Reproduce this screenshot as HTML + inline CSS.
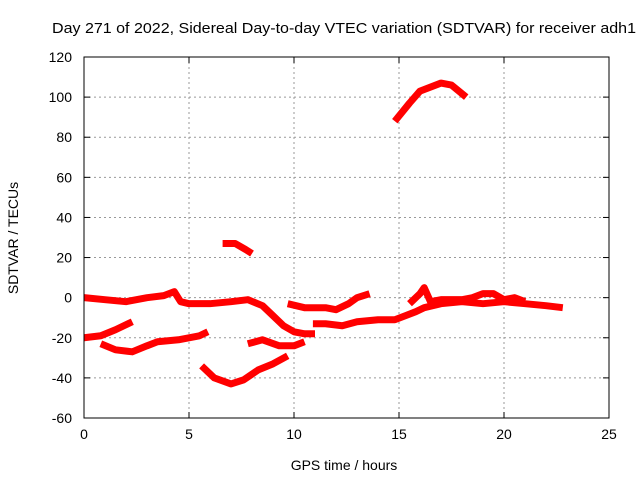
<!DOCTYPE html>
<html><head><meta charset="utf-8"><style>
body{margin:0;background:#fff;}
svg{display:block;font-family:"Liberation Sans",sans-serif;font-size:14px;}
</style></head><body>
<svg id="chart" width="640" height="480">
<text x="344" y="33" text-anchor="middle" textLength="584" lengthAdjust="spacingAndGlyphs" style="font-size:15px">Day 271 of 2022, Sidereal Day-to-day VTEC variation (SDTVAR) for receiver adh1</text>
<g id="grid"></g>
<g id="ticks"></g>
<g id="series"></g>
<rect x="84" y="57" width="525" height="361" fill="none" stroke="#000" stroke-width="1"/>
<text x="344" y="470" text-anchor="middle">GPS time / hours</text>
<text x="0" y="0" transform="translate(18,238) rotate(-90)" text-anchor="middle">SDTVAR / TECUs</text>
</svg>
<script>
const xTicks=[0,5,10,15,20,25];
const yTicks=[-60,-40,-20,0,20,40,60,80,100,120];
const seg1=[[0,0],[1,-1],[2,-2],[3,0],[3.8,1],[4.3,3],[4.6,-2],[5,-3],[6,-3],[7,-2],[7.8,-1],[8.5,-4],[9,-9],[9.5,-14],[10,-17],[10.5,-18],[11,-18]];
const seg2=[[0,-20],[0.8,-19],[1.5,-16],[2.3,-12]];
const seg3=[[0.8,-23],[1.5,-26],[2.3,-27],[3,-24],[3.5,-22],[4.5,-21],[5.5,-19],[5.9,-17]];
const seg4=[[5.6,-34],[6.2,-40],[7,-43],[7.6,-41],[8.3,-36],[9,-33],[9.7,-29]];
const seg5=[[6.6,27],[7.2,27],[7.7,24],[8,22]];
const seg6=[[7.8,-23],[8.5,-21],[9.3,-24],[10,-24],[10.5,-22]];
const seg7=[[9.7,-3],[10.5,-5],[11.5,-5],[12,-6],[12.6,-3],[13,0],[13.6,2]];
const seg8=[[10.9,-13],[11.5,-13],[12.3,-14],[13,-12],[14,-11],[14.8,-11],[15.3,-9],[15.8,-7],[16.2,-5],[17,-3],[18,-2],[19,-3],[20,-2],[21,-3],[22,-4],[22.8,-5]];
const seg9=[[15.5,-3],[16,2],[16.2,5],[16.5,-2],[17,-1],[18,-1],[18.5,0],[19,2],[19.5,2],[20,-1],[20.5,0],[21,-2]];
const seg10=[[14.8,88],[15.5,97],[16,103],[17,107],[17.5,106],[18.2,100]];
const allSeries=[seg1,seg2,seg3,seg4,seg5,seg6,seg7,seg8,seg9,seg10];
const X0=84,X1=609,Y0=418,Y1=57;
function sx(v){return X0+(v-0)/(25-0)*(X1-X0);}
function sy(v){return Y0-(v+60)/180*(Y0-Y1);}
const NS="http://www.w3.org/2000/svg";
const grid=document.getElementById('grid'),ticks=document.getElementById('ticks'),ser=document.getElementById('series');
function mk(tag,attrs,parent){const e=document.createElementNS(NS,tag);for(const k in attrs)e.setAttribute(k,attrs[k]);parent.appendChild(e);return e;}
xTicks.forEach(t=>{
  const x=sx(t);
  if(t>0&&t<25){const g=mk('line',{x1:x,x2:x,y1:Y1,y2:Y0,stroke:'#999','stroke-dasharray':'2,3'},grid);
  
  }
  mk('line',{x1:x,x2:x,y1:Y0,y2:Y0-6,stroke:'#000'},ticks);
  mk('line',{x1:x,x2:x,y1:Y1,y2:Y1+6,stroke:'#000'},ticks);
  const l=mk('text',{x:x,y:Y0+21,'text-anchor':'middle'},ticks);l.textContent=t;
  
  
});
yTicks.forEach(t=>{
  const y=sy(t);
  if(t>-60&&t<120){const g=mk('line',{x1:X0,x2:X1,y1:y,y2:y,stroke:'#999','stroke-dasharray':'2,3'},grid);
  
  }
  mk('line',{x1:X0,x2:X0+6,y1:y,y2:y,stroke:'#000'},ticks);
  mk('line',{x1:X1,x2:X1-6,y1:y,y2:y,stroke:'#000'},ticks);
  const l=mk('text',{x:X0-12,y:y+5,'text-anchor':'end'},ticks);l.textContent=t;
  
  
});
allSeries.forEach((s,i)=>{
  const p=mk('polyline',{points:s.map(d=>sx(d[0])+','+sy(d[1])).join(' '),fill:'none',stroke:'#f00','stroke-width':7,'stroke-linejoin':'round'},ser);
  
  
});
</script>
</body></html>
